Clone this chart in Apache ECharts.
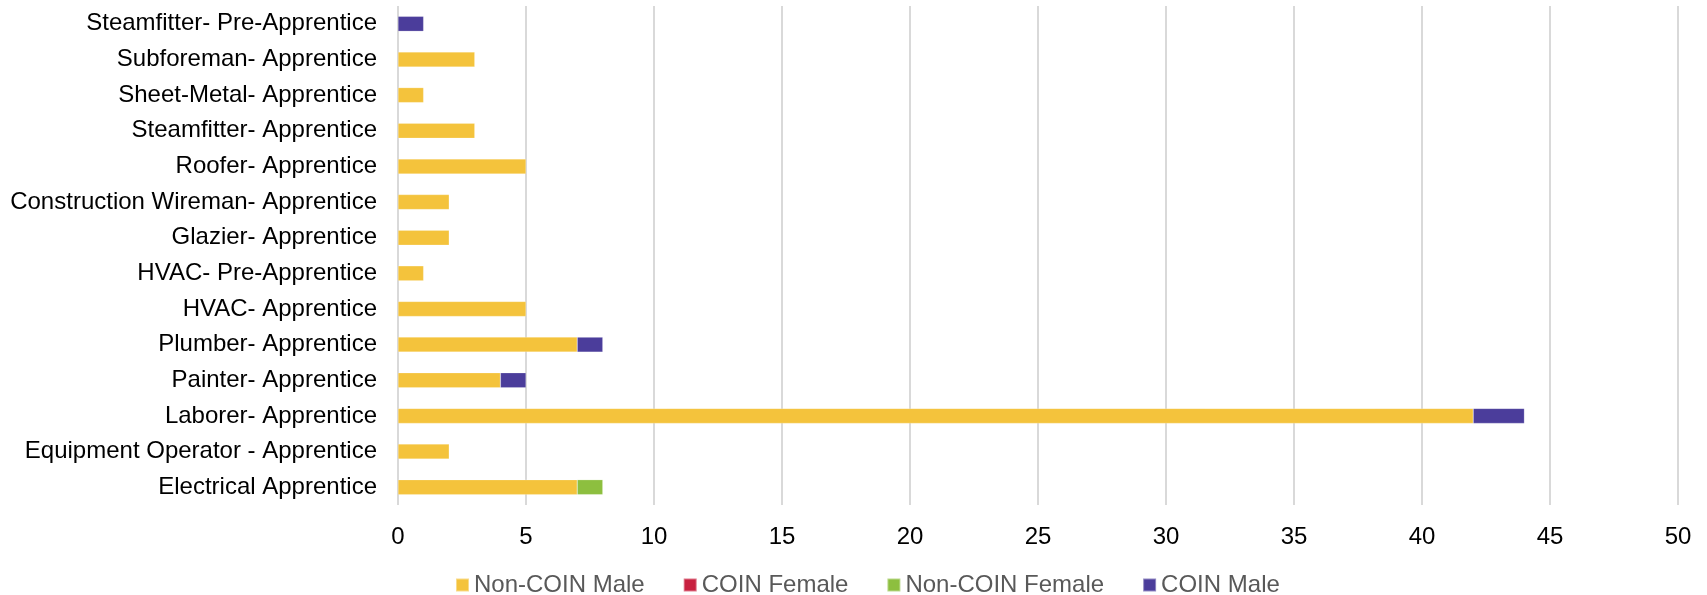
<!DOCTYPE html>
<html lang="en">

<head>
  <meta charset="UTF-8">
  <title>Apprentices</title>
  <style>
    html, body { margin: 0; padding: 0; background: #fff; }
  </style>
</head>

<body>
  <div id="main" style="width: 1707px; height: 595px"></div>

  <script src="https://cdn.jsdelivr.net/npm/echarts@6/dist/echarts.min.js"></script>

  <script>
    // categories, bottom to top
    const trades = [
      "Electrical Apprentice",
      "Equipment Operator - Apprentice",
      "Laborer- Apprentice",
      "Painter- Apprentice",
      "Plumber- Apprentice",
      "HVAC- Apprentice",
      "HVAC- Pre-Apprentice",
      "Glazier- Apprentice",
      "Construction Wireman- Apprentice",
      "Roofer- Apprentice",
      "Steamfitter- Apprentice",
      "Sheet-Metal- Apprentice",
      "Subforeman- Apprentice",
      "Steamfitter- Pre-Apprentice"
    ]

    const nonCoinMale = [7, 2, 42, 4, 7, 5, 1, 2, 2, 5, 3, 1, 3, 0]
    const coinFemale = [0, 0, 0, 0, 0, 0, 0, 0, 0, 0, 0, 0, 0, 0]
    const nonCoinFemale = [1, 0, 0, 0, 0, 0, 0, 0, 0, 0, 0, 0, 0, 0]
    const coinMale = [0, 0, 2, 1, 1, 0, 0, 0, 0, 0, 0, 0, 0, 1]

    const xTicks = { min: 0, max: 50, interval: 5 }

    const font = "'Liberation Sans', Arial, sans-serif"

    let myChart = echarts.init(document.getElementById('main'))

    function bar(name, data, color) {
      return {
        name: name,
        type: "bar",
        stack: "total",
        barWidth: 15,
        data: data.map(v => v === 0 ? null : v),
        itemStyle: { color: color, borderColor: "rgba(255,255,255,0.4)", borderWidth: 0.5 }
      }
    }

    let option = {
      animation: false,
      textStyle: { fontFamily: font },
      grid: { left: 398, right: 29, top: 6, bottom: 90 },
      legend: {
        top: 568,
        left: 450,
        itemWidth: 13,
        itemHeight: 13,
        itemGap: 38,
        icon: "rect",
        textStyle: { fontSize: 24, color: "#595959", fontFamily: font }
      },
      xAxis: {
        type: "value",
        min: xTicks.min,
        max: xTicks.max,
        interval: xTicks.interval,
        axisLine: { show: false },
        axisTick: { show: false },
        axisLabel: { fontSize: 24, color: "#000", margin: 20, fontFamily: font },
        splitLine: { lineStyle: { color: "#D9D9D9", width: 2 } }
      },
      yAxis: {
        type: "category",
        data: trades,
        axisLine: { show: false },
        axisTick: { show: false },
        axisLabel: { fontSize: 24, color: "#000", margin: 21, fontFamily: font }
      },
      series: [
        bar("Non-COIN Male", nonCoinMale, "#F4C33C"),
        bar("COIN Female", coinFemale, "#C8203F"),
        bar("Non-COIN Female", nonCoinFemale, "#8DBF3F"),
        bar("COIN Male", coinMale, "#4B3D9B")
      ]
    }

    myChart.setOption(option)
  </script>
</body>

</html>
